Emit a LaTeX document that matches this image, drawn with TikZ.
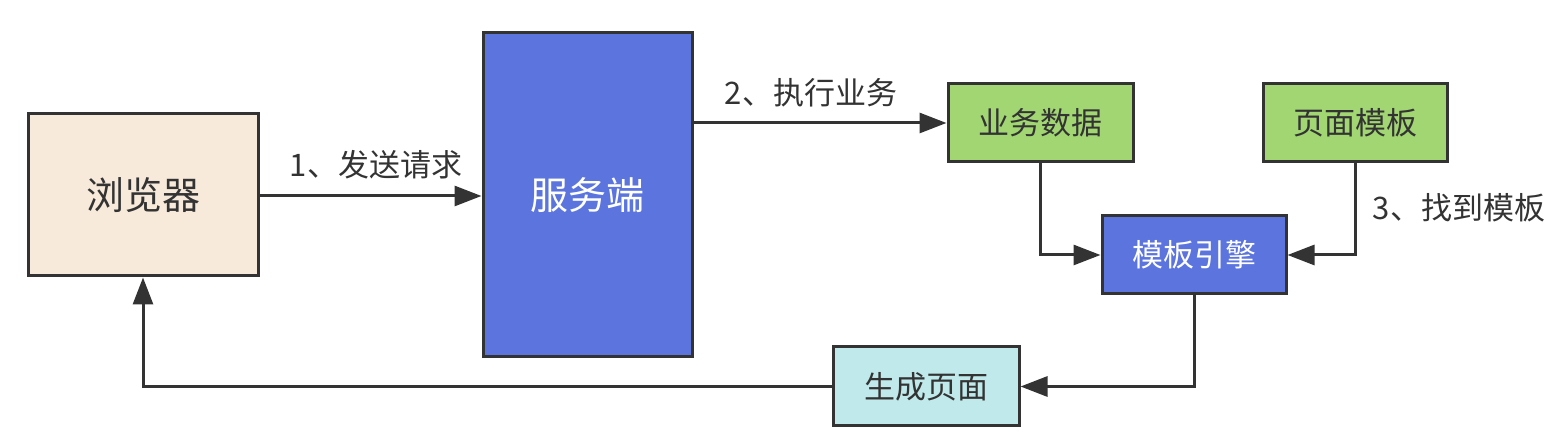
\documentclass[tikz,border=0pt]{standalone}
\usepackage{fontspec}
\setmainfont{Noto Sans CJK SC}
\usetikzlibrary{arrows.meta}
\definecolor{txt}{HTML}{333333}
\definecolor{beige}{HTML}{F8EADA}
\definecolor{blueb}{HTML}{5B74DE}
\definecolor{greenb}{HTML}{A1D673}
\definecolor{cyanb}{HTML}{C0E9EB}
\tikzset{
  box/.style={draw=txt, line width=3pt, inner sep=0pt, text=txt, font=\fontsize{31}{36}\selectfont},
  bigbox/.style={box, font=\fontsize{38}{44}\selectfont},
  conn/.style={draw=txt, line width=3pt, -{Triangle[length=27pt,width=20pt]}},
  lbl/.style={text=txt, inner sep=0pt, font=\fontsize{31}{36}\selectfont}
}
\begin{document}
\begin{tikzpicture}[x=1pt,y=1pt]
\useasboundingbox (0,0) rectangle (1568,444);
\node[bigbox, fill=beige, minimum width=230pt, minimum height=162pt] (browser) at (143,249) {浏览器};
\node[bigbox, fill=blueb, text=white, minimum width=209pt, minimum height=324pt] (server) at (587.5,249) {服务端};
\node[box, fill=greenb, minimum width=185pt, minimum height=78pt] (data) at (1040.5,321) {业务数据};
\node[box, fill=greenb, minimum width=184pt, minimum height=78pt] (tpl) at (1355,321) {页面模板};
\node[box, fill=blueb, text=white, minimum width=184pt, minimum height=78pt] (engine) at (1194,189) {模板引擎};
\node[box, fill=cyanb, minimum width=186pt, minimum height=79pt] (gen) at (926,57.5) {生成页面};

\draw[conn] (browser.east |- 0,248) -- (server.west |- 0,248);
\draw[conn] (server.east |- data.west) -- (data.west);
\draw[conn] (data.south) |- (engine.west);
\draw[conn] (tpl.south) |- (engine.east);
\draw[conn] (engine.south) |- (gen.east);
\draw[conn] (gen.west) -| (browser.south);

\node[lbl] (l1) at (376,279) {1、发送请求};
\node[lbl] (l2) at (811,351) {2、执行业务};
\node[lbl] (l3) at (1459,236) {3、找到模板};
\end{tikzpicture}
\end{document}
